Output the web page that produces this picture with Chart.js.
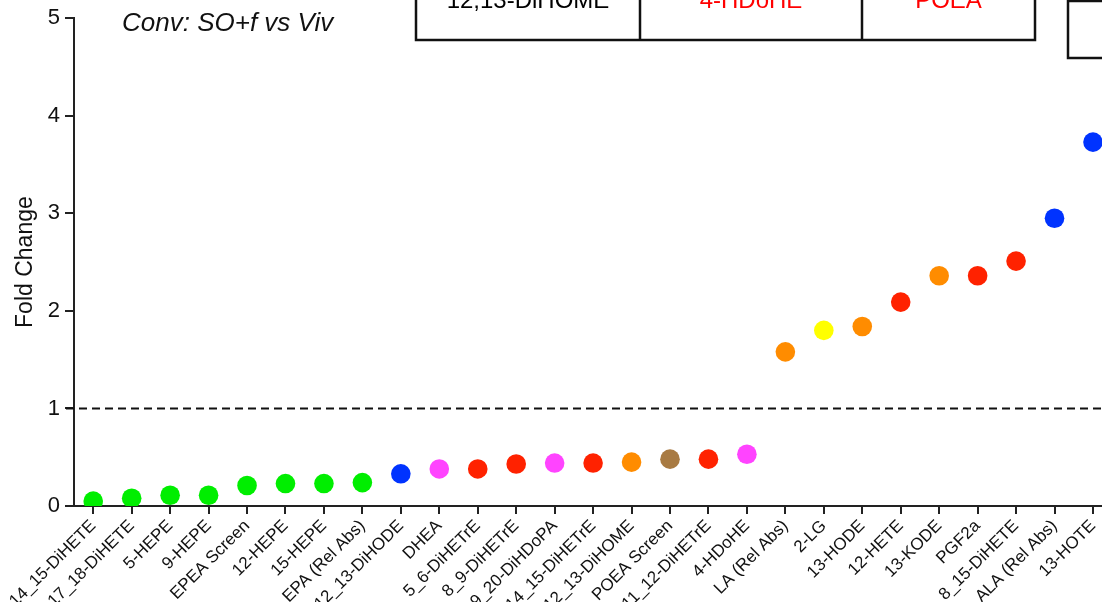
<!DOCTYPE html>
<html>
<head>
<meta charset="utf-8">
<script src="https://cdn.jsdelivr.net/npm/chart.js@4.4.1/dist/chart.umd.min.js"></script>
<style>
html,body{margin:0;padding:0;background:#fff;overflow:hidden;width:1102px;height:602px;}
canvas{display:block;}
</style>
</head>
<body>
<canvas id="c" width="1122" height="602"></canvas>
<script>
const categories = ["14_15-DiHETE","17_18-DiHETE","5-HEPE","9-HEPE","EPEA Screen","12-HEPE","15-HEPE","EPA (Rel Abs)","12_13-DiHODE","DHEA","5_6-DiHETrE","8_9-DiHETrE","19_20-DiHDoPA","14_15-DiHETrE","12_13-DiHOME","POEA Screen","11_12-DiHETrE","4-HDoHE","LA (Rel Abs)","2-LG","13-HODE","12-HETE","13-KODE","PGF2a","8_15-DiHETE","ALA (Rel Abs)","13-HOTE"];
const foldChange = [0.05,0.08,0.11,0.11,0.21,0.23,0.23,0.24,0.33,0.38,0.38,0.43,0.44,0.44,0.45,0.48,0.48,0.53,1.58,1.80,1.84,2.09,2.36,2.36,2.51,2.95,3.73];
const pointColors = ["#00ee00","#00ee00","#00ee00","#00ee00","#00ee00","#00ee00","#00ee00","#00ee00","#0033ff","#ff44ff","#ff2200","#ff2200","#ff44ff","#ff2200","#ff8c00","#a87a42","#ff2200","#ff44ff","#ff8c00","#ffff00","#ff8c00","#ff2200","#ff8c00","#ff2200","#ff2200","#0033ff","#0033ff"];
const yTicks = [0,1,2,3,4,5];
const refLineValue = 1;
const titleText = "Conv: SO+f vs Viv";
const tableCells = ["12,13-DiHOME","4-HDoHE","POEA"];
const tableCellColors = ["#000000","#ff0000","#ff0000"];

const FONT = "'Liberation Sans', Arial, sans-serif";

const decorPlugin = {
  id: 'decor',
  beforeDatasetsDraw(chart) {
    const ctx = chart.ctx, y = chart.scales.y, ca = chart.chartArea;
    const py = y.getPixelForValue(refLineValue);
    ctx.save();
    ctx.strokeStyle = '#111';
    ctx.lineWidth = 2;
    ctx.setLineDash([8, 5]);
    ctx.beginPath();
    ctx.moveTo(ca.left - 8, py);
    ctx.lineTo(chart.width, py);
    ctx.stroke();
    ctx.restore();
  },
  afterDraw(chart) {
    const ctx = chart.ctx;
    ctx.save();
    ctx.fillStyle = '#111';
    ctx.font = "italic 26px " + FONT;
    ctx.textBaseline = 'alphabetic';
    ctx.textAlign = 'left';
    ctx.fillText(titleText, 122, 31);
    ctx.strokeStyle = '#111';
    ctx.lineWidth = 2.5;
    const xs = [416, 640, 862, 1035];
    ctx.strokeRect(xs[0], -40, xs[3] - xs[0], 80);
    ctx.beginPath();
    ctx.moveTo(xs[1], -40); ctx.lineTo(xs[1], 40);
    ctx.moveTo(xs[2], -40); ctx.lineTo(xs[2], 40);
    ctx.stroke();
    ctx.font = "24px " + FONT;
    ctx.textAlign = 'center';
    for (let i = 0; i < tableCells.length; i++) {
      ctx.fillStyle = tableCellColors[i];
      ctx.fillText(tableCells[i], (xs[i] + xs[i + 1]) / 2, 8);
    }
    ctx.strokeRect(1068, 1, 100, 57);
    ctx.restore();
  }
};

new Chart(document.getElementById('c'), {
  type: 'line',
  data: {
    labels: categories,
    datasets: [{
      data: foldChange,
      showLine: false,
      pointRadius: 9.8,
      pointHoverRadius: 9.8,
      pointBorderWidth: 0,
      pointBackgroundColor: pointColors,
      pointBorderColor: pointColors
    }]
  },
  options: {
    responsive: false,
    animation: false,
    devicePixelRatio: 1,
    layout: { padding: { top: 14, left: 0, right: 0, bottom: 0 } },
    plugins: { legend: { display: false }, tooltip: { enabled: false } },
    scales: {
      x: {
        type: 'category',
        offset: true,
        grid: { display: true, drawOnChartArea: false, drawTicks: true, tickLength: 8, color: '#222', lineWidth: 2, offset: false },
        border: { display: true, color: '#222', width: 2 },
        ticks: { color: '#111', font: { family: FONT, size: 17 }, maxRotation: 45, minRotation: 45, autoSkip: false, padding: 2 },
        afterFit(scale) { scale.height = 96; }
      },
      y: {
        min: 0, max: 5,
        afterBuildTicks(scale) { scale.ticks = yTicks.map(v => ({ value: v })); },
        grid: { display: true, drawOnChartArea: false, drawTicks: true, tickLength: 9, color: '#222', lineWidth: 2 },
        border: { display: true, color: '#222', width: 2 },
        ticks: { color: '#111', font: { family: FONT, size: 22 }, padding: 5 },
        title: { display: true, text: 'Fold Change', color: '#111', font: { family: FONT, size: 23 }, padding: { top: 12, bottom: 0 } },
        afterFit(scale) { scale.width = 74; }
      }
    }
  },
  plugins: [decorPlugin]
});
</script>
</body>
</html>
